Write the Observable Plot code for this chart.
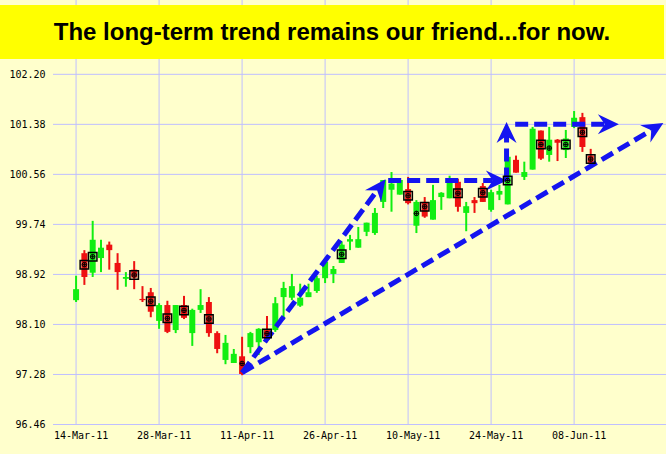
<!DOCTYPE html>
<html><head><meta charset="utf-8">
<script src="https://cdn.jsdelivr.net/npm/d3@7"></script>
<script src="https://cdn.jsdelivr.net/npm/@observablehq/plot@0.6"></script>
<style>
html,body{margin:0;padding:0;background:#FFFFCC;}
#wrap{position:relative;width:666px;height:454px;overflow:hidden;}
#banner{position:absolute;left:0;top:5px;width:664px;height:54px;background:#FFFF00;font:bold 24px "Liberation Sans",Arial,sans-serif;line-height:54px;text-align:center;color:#000;white-space:nowrap;}
</style></head>
<body><div id="wrap"><div id="chart"></div><div id="banner">The long-term trend remains our friend...for now.</div></div>
<script>
// ---- data ----
const days = ["14-Mar-11","15-Mar-11","16-Mar-11","17-Mar-11","18-Mar-11","21-Mar-11","22-Mar-11","23-Mar-11","24-Mar-11","25-Mar-11",
"28-Mar-11","29-Mar-11","30-Mar-11","31-Mar-11","01-Apr-11","04-Apr-11","05-Apr-11","06-Apr-11","07-Apr-11","08-Apr-11",
"11-Apr-11","12-Apr-11","13-Apr-11","14-Apr-11","15-Apr-11","18-Apr-11","19-Apr-11","20-Apr-11","21-Apr-11","25-Apr-11",
"26-Apr-11","27-Apr-11","28-Apr-11","29-Apr-11","02-May-11","03-May-11","04-May-11","05-May-11","06-May-11","09-May-11",
"10-May-11","11-May-11","12-May-11","13-May-11","16-May-11","17-May-11","18-May-11","19-May-11","20-May-11","23-May-11",
"24-May-11","25-May-11","26-May-11","27-May-11","31-May-11","01-Jun-11","02-Jun-11","03-Jun-11","06-Jun-11","07-Jun-11",
"08-Jun-11","09-Jun-11","10-Jun-11"];
const open  = [98.49,99.26,98.94,99.18,99.40,99.10,98.84,98.99,98.51,98.62,
98.15,98.41,98.00,98.41,97.95,98.33,98.46,97.95,97.51,97.46,
97.57,97.72,97.80,98.00,98.00,98.54,98.53,98.40,98.54,98.64,
98.85,98.92,99.10,99.45,99.35,99.61,99.59,100.10,100.30,100.22,
100.31,99.71,100.10,99.81,100.18,100.16,100.43,99.92,100.13,100.36,
99.97,100.22,100.06,100.79,100.51,100.63,101.27,100.87,101.12,100.95,
101.33,101.49,100.86];
const high  = [98.89,99.31,99.79,99.48,99.45,99.26,98.95,99.13,98.72,98.69,
98.44,98.48,98.41,98.56,98.35,98.67,98.54,97.98,97.92,97.69,
97.89,97.97,98.03,98.23,98.54,98.79,98.92,98.76,98.76,98.89,
99.15,99.05,99.45,99.56,99.69,99.76,100.00,100.46,100.59,100.49,
100.51,100.13,100.18,100.38,100.26,100.53,100.48,100.10,100.18,100.41,
100.30,100.38,100.87,100.86,100.76,101.33,101.27,101.33,101.13,101.28,
101.59,101.56,100.97];
const low   = [98.46,98.74,98.87,98.95,98.99,98.66,98.71,98.67,98.46,98.21,
98.02,97.95,97.95,98.18,97.74,98.28,97.89,97.62,97.44,97.46,
97.26,97.62,97.59,97.80,97.97,98.17,98.49,98.38,98.54,98.61,
98.77,98.77,99.10,99.31,99.35,99.54,99.56,100.00,99.94,100.22,
100.06,99.59,99.84,99.81,99.97,100.16,99.94,99.62,99.92,100.10,
99.94,100.13,100.06,100.58,100.46,100.63,100.79,100.76,100.77,100.82,
101.31,100.92,100.72];
const close = [98.67,98.87,99.48,99.35,99.31,98.95,98.87,98.86,98.49,98.30,
98.41,97.97,98.41,98.20,98.33,98.41,97.95,97.69,97.79,97.61,
97.28,97.95,98.02,97.84,98.44,98.69,98.72,98.53,98.62,98.85,
99.12,99.00,99.40,99.49,99.49,99.76,99.92,100.46,100.40,100.46,
100.08,100.10,99.86,100.13,100.25,100.41,100.02,100.03,100.08,100.10,
100.26,100.28,100.84,100.58,100.59,101.30,100.81,101.12,101.07,101.14,
101.48,101.00,100.74];

const tickLabels = ["14-Mar-11","28-Mar-11","11-Apr-11","26-Apr-11","10-May-11","24-May-11","08-Jun-11"];
const yTicks = [96.46,97.28,98.10,98.92,99.74,100.56,101.38,102.20];

const squareDates  = ["15-Mar-11","16-Mar-11","23-Mar-11","25-Mar-11","29-Mar-11","31-Mar-11","05-Apr-11","14-Apr-11","28-Apr-11",
"10-May-11","12-May-11","18-May-11","23-May-11","26-May-11","02-Jun-11","07-Jun-11","09-Jun-11","10-Jun-11"];
const squarePrice  = [99.08,99.21,98.91,98.48,98.20,98.33,98.19,97.95,99.25,100.21,100.03,100.25,100.26,100.46,101.05,101.05,101.25,100.81];
const circleDates  = ["11-Apr-11","11-May-11","03-Jun-11"];
const circlePrice  = [97.46,99.92,100.99];

// trend arrows (trading-day position, price)
const arrowX1 = [20, 20, 37.6, 51.86, 52.9];
const arrowP1 = [97.31, 97.31, 100.46, 100.46, 101.38];
const arrowX2 = [37.28, 70.75, 51.9, 51.86, 65.39];
const arrowP2 = [100.48, 101.4, 100.46, 101.42, 101.38];

// ---- styling ----
const GREEN = "#11ee11", RED = "#ee1111", GRID = "#bfbfff", BLUE = "#1414f0";
const xDomain = [-2.72, 71.13], yDomain = [96.46, 103.41];

const candles = days.map((d, i) => ({i, d, o: open[i], h: high[i], l: low[i], c: close[i], col: close[i] >= open[i] ? GREEN : RED}));
const tickIdx = tickLabels.map(t => days.indexOf(t));
const squares = squareDates.map((d, k) => ({i: days.indexOf(d), p: squarePrice[k]}));
const circles = squares.concat(circleDates.map((d, k) => ({i: days.indexOf(d), p: circlePrice[k]})));
const arrows = arrowX1.map((x1, k) => ({x1, y1: arrowP1[k], x2: arrowX2[k], y2: arrowP2[k]}));

function make(extra) {
  return Plot.plot({
    width: 666, height: 454,
    marginLeft: 53, marginRight: 0, marginTop: 0, marginBottom: 30,
    style: {background: "#FFFFCC", fontFamily: "'DejaVu Sans Mono', monospace", fontSize: "10px", color: "#000"},
    x: {type: "linear", domain: xDomain, axis: null},
    y: {type: "linear", domain: yDomain, axis: null},
    color: {type: "identity"},
    marks: [
      Plot.ruleX(tickIdx, {x: d => d, stroke: GRID, strokeOpacity: 1}),
      Plot.ruleY(yTicks, {y: d => d, stroke: GRID, strokeOpacity: 1}),
      Plot.axisX(tickIdx, {tickFormat: i => days[i], tickSize: 0, tickPadding: 7, dx: 5, label: null, fontSize: 10}),
      Plot.axisY(yTicks, {tickFormat: v => v.toFixed(2), tickSize: 0, tickPadding: 8, label: null, fontSize: 10}),
      Plot.ruleX(candles, {x: "i", y1: "l", y2: "h", stroke: "col", strokeWidth: 2}),
      Plot.ruleX(candles, {x: "i", y1: "o", y2: "c", stroke: "col", strokeWidth: 6}),
      ...extra
    ]
  });
}

const probe = make([]);
const sx = probe.scale("x"), sy = probe.scale("y");
const HL = 21, HW = 10, HN = 7;
const links = [], heads = [];
arrows.forEach((a, k) => {
  const x1 = sx.apply(a.x1), y1 = sy.apply(a.y1), x2 = sx.apply(a.x2), y2 = sy.apply(a.y2);
  const len = Math.hypot(x2 - x1, y2 - y1), ux = (x2 - x1) / len, uy = (y2 - y1) / len, nx = -uy, ny = ux;
  const pts = [[x2, y2], [x2 - HL * ux + HW * nx, y2 - HL * uy + HW * ny], [x2 - (HL - HN) * ux, y2 - (HL - HN) * uy], [x2 - HL * ux - HW * nx, y2 - HL * uy - HW * ny]];
  pts.forEach(([px, py]) => heads.push({k, x: sx.invert(px), y: sy.invert(py)}));
  const ex = x2 - (HL - HN) * ux, ey = y2 - (HL - HN) * uy;
  links.push({x1: a.x1, y1: a.y1, x2: sx.invert(ex), y2: sy.invert(ey)});
});

const chart = make([
  Plot.link(links, {x1: "x1", y1: "y1", x2: "x2", y2: "y2", stroke: BLUE, strokeWidth: 5, strokeDasharray: "13,6"}),
  Plot.line(heads, {x: "x", y: "y", z: "k", fill: BLUE, stroke: "none", curve: "linear"}),
  Plot.dot(squares, {x: "i", y: "p", symbol: "square", r: 4.8, stroke: "#000", fill: "none", strokeWidth: 1.5}),
  Plot.dot(circles, {x: "i", y: "p", r: 2.3, stroke: "#000", fill: "none", strokeWidth: 1}),
  Plot.dot(circles, {x: "i", y: "p", symbol: "plus", r: 1.5, stroke: "#000", strokeWidth: 1})
]);
document.getElementById("chart").appendChild(chart);
</script>
</body></html>
